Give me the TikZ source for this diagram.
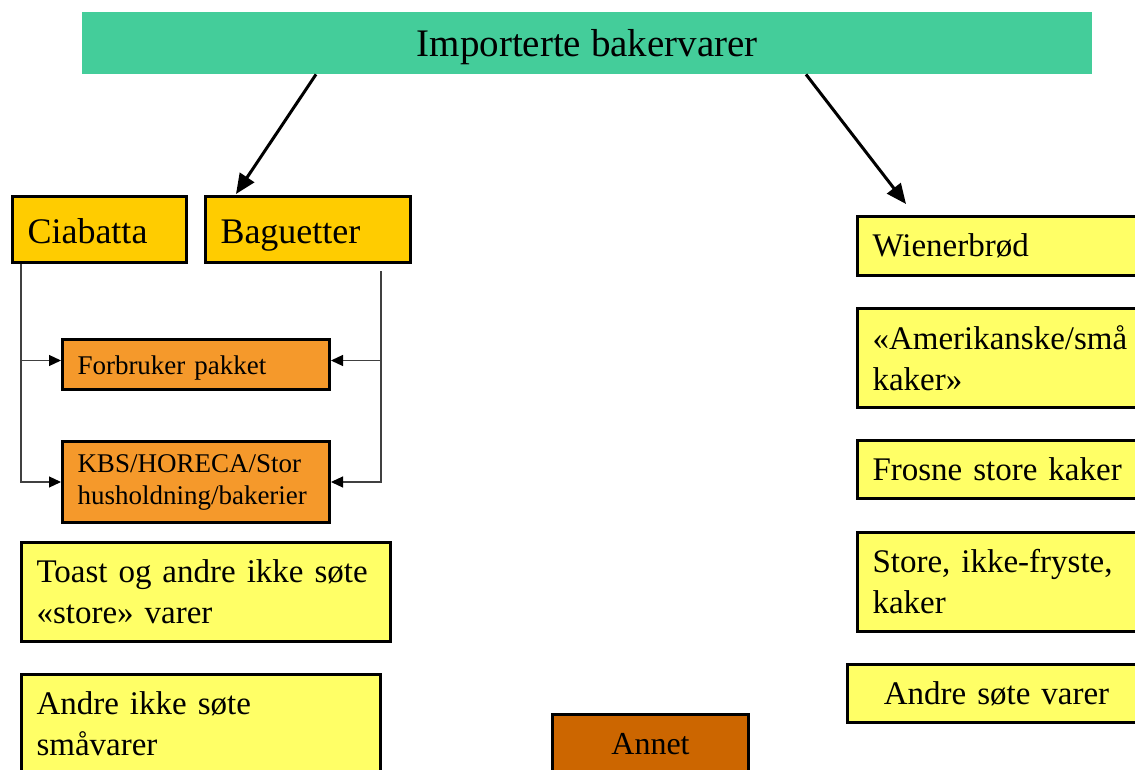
\documentclass[tikz,border=0pt]{standalone}
\usepackage{fontspec}
\setmainfont{Liberation Serif}
\usetikzlibrary{arrows.meta}
\definecolor{titlegreen}{HTML}{44CD9A}
\definecolor{gold}{HTML}{FFCC00}
\definecolor{orangebox}{HTML}{F5992B}
\definecolor{lightyellow}{HTML}{FFFF66}
\definecolor{brownbox}{HTML}{CC6600}
\definecolor{connline}{HTML}{404040}
\tikzset{
  box/.style={draw=black, line width=3pt, anchor=north west, inner xsep=15pt, inner ysep=0pt, align=left},
  goldbox/.style={box, fill=gold, font=\fontsize{36}{42}\selectfont, text height=28pt, text depth=0pt},
  orangeitem/.style={box, fill=orangebox, font=\fontsize{27}{32}\selectfont},
  yellowitem/.style={box, fill=lightyellow, font=\fontsize{33}{41}\selectfont},
  bigarrow/.style={line width=3pt, -{Triangle[length=20pt,width=17pt]}},
  conn/.style={draw=connline, line width=1.2pt, -{Triangle[length=12pt,width=11pt,fill=black,color=black]}}
}
\begin{document}
\begin{tikzpicture}[x=1pt,y=-1pt]
\useasboundingbox (0,0) rectangle (1135,770);
% title
\node[anchor=north west, fill=titlegreen, minimum width=1010pt, minimum height=62pt, inner sep=0pt,
      text height=27pt, text depth=0pt,
      font=\fontsize{39}{44}\selectfont] (title) at (82,12) {Importerte bakervarer};
% left group
\node[goldbox, text width=144pt, minimum height=66pt] (cia) at (11,195) {Ciabatta};
\node[goldbox, text width=175pt, minimum height=66pt] (bag) at (204,195) {Baguetter};
\node[orangeitem, text width=237pt, minimum height=50pt, text height=20pt, text depth=0pt] (forb) at (61,338) {Forbruker pakket};
\node[orangeitem, text width=237pt, minimum height=81pt] (kbs) at (61,440) {KBS/HORECA/Stor\\husholdning/bakerier};
\node[yellowitem, text width=339pt, minimum height=99pt] (toast) at (20,541) {Toast og andre ikke søte\\«store» varer};
\node[yellowitem, text width=329pt, minimum height=99pt] (andreikke) at (20,673) {Andre ikke søte\\småvarer};
% middle
\node[box, fill=brownbox, align=center, text width=166pt, minimum height=60pt,
      font=\fontsize{32}{38}\selectfont] (annet) at (551,713) {Annet};
% right group
\node[yellowitem, text width=260pt, minimum height=59pt] (wien) at (856,215) {Wienerbrød};
\node[yellowitem, text width=260pt, minimum height=99pt] (amer) at (856,307) {«Amerikanske/små\\kaker»};
\node[yellowitem, text width=260pt, minimum height=58pt] (frosne) at (856,439) {Frosne store kaker};
\node[yellowitem, text width=260pt, minimum height=99pt] (store) at (856,531) {Store, ikke-fryste,\\kaker};
\node[yellowitem, align=center, text width=268pt, minimum height=58pt] (andresote) at (846,663) {Andre søte varer};
% main arrows
\draw[bigarrow] ([xshift=234pt]title.south west) -- ([xshift=32pt,yshift=1pt]bag.north west);
\draw[bigarrow] ([xshift=724pt]title.south west) -- ([xshift=50pt,yshift=11pt]wien.north west);
% connectors
\draw[conn] ([xshift=10pt]cia.south west) |- ([yshift=4pt]forb.west);
\draw[conn] ([xshift=10pt]cia.south west) |- (kbs.west);
\draw[conn] ([xshift=-31pt,yshift=-7pt]bag.south east) |- ([yshift=4pt]forb.east);
\draw[conn] ([xshift=-31pt,yshift=-7pt]bag.south east) |- (kbs.east);
\end{tikzpicture}
\end{document}
